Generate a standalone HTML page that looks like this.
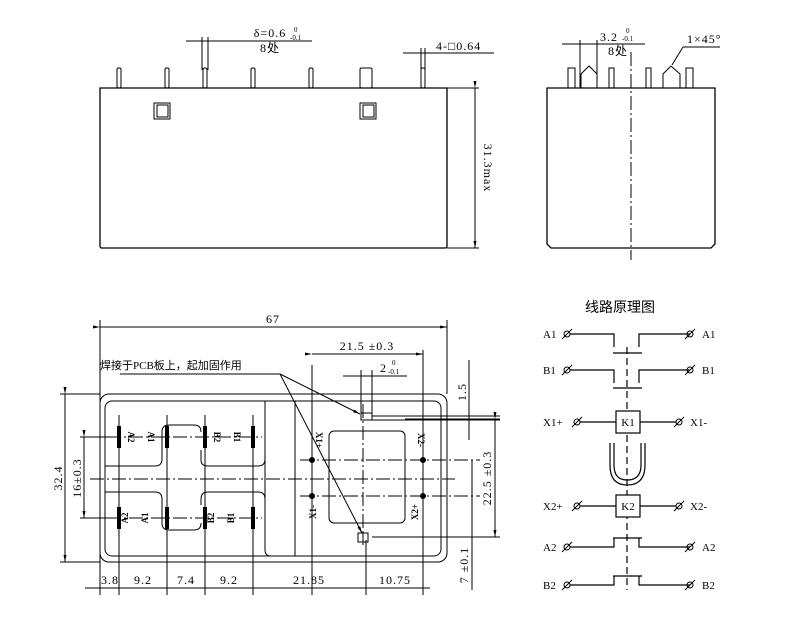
<!DOCTYPE html>
<html><head><meta charset="utf-8"><style>
html,body{margin:0;padding:0;background:#fff}
svg{display:block}
text{font-family:"Liberation Serif","Noto Sans CJK SC",serif;fill:#000}
</style></head><body>
<svg width="800" height="636" viewBox="0 0 800 636" xmlns="http://www.w3.org/2000/svg">
<defs>
<marker id="ar" markerWidth="8" markerHeight="6" refX="7" refY="3" orient="auto"><path d="M0,1.5 L7,3 L0,4.5Z" fill="#000"/></marker>
<g id="s" stroke="#000" fill="none" stroke-width="1"><circle cx="0" cy="0" r="3"/><line x1="-5" y1="5" x2="5" y2="-5"/></g>
</defs>
<g stroke="#000" fill="none" stroke-width="1">
<!-- ===== Front view ===== -->
<path d="M100,88 H447 V246 Q447,248 445,248 H102 Q100,248 100,246 Z" stroke-width="1.3"/>
<line x1="447" y1="88" x2="479" y2="88"/>
<line x1="447" y1="248" x2="479" y2="248"/>
<line x1="475" y1="88" x2="475" y2="248" marker-start="url(#ar)" marker-end="url(#ar)"/>
<rect x="117" y="68" width="4" height="20" rx="1.5"/>
<rect x="165" y="68" width="4" height="20" rx="1.5"/>
<rect x="203" y="68" width="4" height="20" rx="1.5"/>
<rect x="251" y="68" width="4" height="20" rx="1.5"/>
<rect x="309" y="68" width="4" height="20" rx="1.5"/>
<rect x="360" y="68" width="12" height="20" rx="1.5"/>
<rect x="421" y="68" width="4" height="20" rx="1.5"/>
<rect x="154" y="103" width="16" height="16"/><rect x="157" y="105" width="11" height="12"/>
<rect x="360" y="103" width="16" height="16"/><rect x="363" y="105" width="11" height="12"/>
<line x1="202" y1="37" x2="202" y2="70"/><line x1="208" y1="37" x2="208" y2="70"/>
<line x1="186" y1="41" x2="312" y2="41"/>
<line x1="421" y1="48" x2="421" y2="70"/><line x1="425" y1="48" x2="425" y2="70"/>
<line x1="403" y1="53" x2="494" y2="53"/>
<!-- ===== Side view ===== -->
<path d="M547,88 H715 V244 L711,248 H551 L547,244 Z" stroke-width="1.3"/>
<line x1="631" y1="52" x2="631" y2="260" stroke-dasharray="14,3,2,3"/>
<rect x="568" y="68" width="7" height="20"/>
<path d="M581,88 V74 L589,66 L597,74 V88"/>
<rect x="609" y="68" width="5" height="20"/>
<rect x="646" y="68" width="5" height="20"/>
<path d="M663,88 V74 L671,66 L680,74 V88"/>
<rect x="686" y="68" width="7" height="20"/>
<line x1="580" y1="40" x2="580" y2="88"/><line x1="597" y1="40" x2="597" y2="88"/>
<line x1="562" y1="44" x2="645" y2="44"/>
<line x1="683" y1="47" x2="720" y2="47"/><line x1="683" y1="47" x2="672" y2="65"/>
<!-- ===== Bottom view ===== -->
<rect x="100" y="394" width="347" height="168" rx="9"/>
<rect x="105" y="401" width="336" height="155" rx="7"/>
<path d="M265,401 V550 Q265,556 271,556 H295 V401"/>
<path d="M105,466 H155 Q162,466 162,459 V432 Q162,425 169,425 H194 Q201,425 201,432"/>
<path d="M201,450 V460 Q201,466 208,466 H258 Q265,466 265,459 V401"/>
<path d="M105,492 H155 Q162,492 162,499 V523 Q162,530 169,530 H194 Q201,530 201,523"/>
<path d="M201,505 V499 Q201,492 208,492 H258 Q265,492 265,499"/>
<rect x="329" y="431" width="76" height="92" rx="5"/>
<line x1="90" y1="479" x2="455" y2="479" stroke-dasharray="14,3,2,3"/>
<line x1="85" y1="437" x2="262" y2="437" stroke-dasharray="14,3,2,3"/>
<line x1="85" y1="518" x2="262" y2="518" stroke-dasharray="14,3,2,3"/>
<line x1="300" y1="460" x2="480" y2="460" stroke-dasharray="14,3,2,3"/>
<line x1="300" y1="496" x2="480" y2="496" stroke-dasharray="14,3,2,3"/>
<line x1="363" y1="404" x2="363" y2="545" stroke-dasharray="14,3,2,3"/>
<line x1="119" y1="415" x2="119" y2="595"/>
<line x1="167" y1="415" x2="167" y2="595"/>
<line x1="205" y1="415" x2="205" y2="595"/>
<line x1="253" y1="415" x2="253" y2="595"/>
<line x1="312" y1="365" x2="312" y2="595"/>
<line x1="423" y1="350" x2="423" y2="595"/>
<line x1="366" y1="540" x2="366" y2="595"/>
<line x1="100" y1="320" x2="100" y2="595"/>
<line x1="447" y1="320" x2="447" y2="394"/>
<line x1="100" y1="327" x2="447" y2="327" marker-start="url(#ar)" marker-end="url(#ar)"/>
<line x1="312" y1="354" x2="423" y2="354" marker-start="url(#ar)" marker-end="url(#ar)"/>
<line x1="343" y1="376" x2="407" y2="376"/>
<line x1="361" y1="370" x2="361" y2="420"/><line x1="372" y1="370" x2="372" y2="420"/>
<rect x="361" y="413" width="11" height="7"/>
<line x1="372" y1="416" x2="500" y2="416"/><line x1="372" y1="420" x2="500" y2="420"/>
<line x1="469" y1="360" x2="469" y2="440"/>
<line x1="405" y1="419" x2="500" y2="419"/>
<line x1="372" y1="537" x2="500" y2="537"/>
<line x1="495" y1="419" x2="495" y2="537" marker-start="url(#ar)" marker-end="url(#ar)"/>
<line x1="472" y1="460" x2="472" y2="590"/>
<rect x="358" y="533" width="10" height="9"/><line x1="363" y1="533" x2="363" y2="542"/>
<line x1="60" y1="394" x2="100" y2="394"/><line x1="60" y1="562" x2="100" y2="562"/>
<line x1="65" y1="394" x2="65" y2="562" marker-start="url(#ar)" marker-end="url(#ar)"/>
<line x1="80" y1="437" x2="119" y2="437"/><line x1="80" y1="518" x2="119" y2="518"/>
<line x1="84" y1="437" x2="84" y2="518" marker-start="url(#ar)" marker-end="url(#ar)"/>
<line x1="85" y1="588" x2="430" y2="588"/>
<line x1="120" y1="374" x2="280" y2="374"/>
<line x1="280" y1="374" x2="360" y2="414" marker-end="url(#ar)"/>
<line x1="280" y1="374" x2="362" y2="533" marker-end="url(#ar)"/>
</g>
<g fill="#000">
<rect x="117" y="426" width="4" height="22"/><rect x="165" y="426" width="4" height="22"/>
<rect x="117" y="507" width="4" height="22"/><rect x="165" y="507" width="4" height="22"/>
<rect x="203" y="426" width="4" height="22"/><rect x="251" y="426" width="4" height="22"/>
<rect x="203" y="507" width="4" height="22"/><rect x="251" y="507" width="4" height="22"/>
<circle cx="312" cy="460" r="3"/><circle cx="423" cy="460" r="3"/>
<circle cx="312" cy="496" r="3"/><circle cx="423" cy="496" r="3"/>
</g>
<g font-size="12" letter-spacing="1">
<text x="270" y="37" text-anchor="middle">δ=0.6</text>
<text x="294" y="32" font-size="7" fill="#c00" letter-spacing="0">0</text>
<text x="290" y="40" font-size="7" letter-spacing="0">-0.1</text>
<text x="270" y="52" text-anchor="middle">8处</text>
<text x="436" y="50">4-□0.64</text>
<text x="600" y="41">3.2</text>
<text x="626" y="33" font-size="7" fill="#c00" letter-spacing="0">0</text>
<text x="622" y="41" font-size="7" letter-spacing="0">-0.1</text>
<text x="608" y="55">8处</text>
<text x="687" y="43">1×45°</text>
<text transform="translate(484,168) rotate(90)" text-anchor="middle">31.3max</text>
<text x="273" y="323" text-anchor="middle">67</text>
<text x="367" y="350" text-anchor="middle">21.5 ±0.3</text>
<text x="380" y="372">2</text><text x="392" y="365" font-size="7" fill="#c00" letter-spacing="0">0</text><text x="388" y="374" font-size="7" letter-spacing="0">-0.1</text>
<text x="100" y="369" font-size="11" letter-spacing="0" font-family="Liberation Sans,Noto Sans CJK SC,sans-serif">焊接于PCB板上，起加固作用</text>
<text transform="translate(62,478) rotate(-90)" text-anchor="middle">32.4</text>
<text transform="translate(81,478) rotate(-90)" text-anchor="middle">16±0.3</text>
<text transform="translate(466,392) rotate(-90)" text-anchor="middle">1.5</text>
<text transform="translate(491,478) rotate(-90)" text-anchor="middle">22.5 ±0.3</text>
<text transform="translate(468,565) rotate(-90)" text-anchor="middle">7 ±0.1</text>
<text x="110" y="584" text-anchor="middle">3.8</text>
<text x="143" y="584" text-anchor="middle">9.2</text>
<text x="186" y="584" text-anchor="middle">7.4</text>
<text x="229" y="584" text-anchor="middle">9.2</text>
<text x="309" y="584" text-anchor="middle">21.85</text>
<text x="395" y="584" text-anchor="middle">10.75</text>
</g>
<g font-size="9" font-weight="bold">
<text transform="translate(128,437) rotate(90)" text-anchor="middle">A2</text>
<text transform="translate(148,437) rotate(90)" text-anchor="middle">A1</text>
<text transform="translate(214,437) rotate(90)" text-anchor="middle">B2</text>
<text transform="translate(234,437) rotate(90)" text-anchor="middle">B1</text>
<text transform="translate(128,518) rotate(-90)" text-anchor="middle">A2</text>
<text transform="translate(148,518) rotate(-90)" text-anchor="middle">A1</text>
<text transform="translate(214,518) rotate(-90)" text-anchor="middle">B2</text>
<text transform="translate(234,518) rotate(-90)" text-anchor="middle">B1</text>
<text transform="translate(316,440) rotate(90)" text-anchor="middle">X1+</text>
<text transform="translate(418,440) rotate(90)" text-anchor="middle">X2-</text>
<text transform="translate(316,512) rotate(-90)" text-anchor="middle">X1-</text>
<text transform="translate(418,512) rotate(-90)" text-anchor="middle">X2+</text>
</g>
<text x="620" y="312" text-anchor="middle" font-size="14" font-family="Noto Sans CJK SC,sans-serif">线路原理图</text>
<g stroke="#000" fill="none" stroke-width="1.2">
<line x1="627" y1="347" x2="627" y2="590" stroke-dasharray="7,4"/>
<path d="M570,334 H614 V347 M639,347 V334 H690"/>
<line x1="613" y1="353" x2="642" y2="353"/>
<path d="M570,370 H614 V383 M639,383 V370 H690"/>
<line x1="613" y1="388" x2="642" y2="388"/>
<rect x="616" y="411" width="24" height="22" fill="#fff"/>
<path d="M580,422 H616 M640,422 H676"/>
<path d="M610,443 V465 Q610,485 627,485 Q645,485 645,465 V443 M614,443 V465 Q614,480 627,480 Q641,480 641,465 V443"/>
<rect x="616" y="495" width="24" height="22" fill="#fff"/>
<path d="M580,506 H616 M640,506 H676"/>
<line x1="613" y1="538" x2="642" y2="538"/>
<path d="M570,547 H614 V538 M639,538 V547 H690"/>
<line x1="613" y1="576" x2="642" y2="576"/>
<path d="M570,585 H614 V576 M639,576 V585 H690"/>
</g>
<use href="#s" x="567" y="334"/><use href="#s" x="690" y="334"/>
<use href="#s" x="567" y="370"/><use href="#s" x="690" y="370"/>
<use href="#s" x="577" y="422"/><use href="#s" x="679" y="422"/>
<use href="#s" x="577" y="506"/><use href="#s" x="679" y="506"/>
<use href="#s" x="567" y="547"/><use href="#s" x="690" y="547"/>
<use href="#s" x="567" y="585"/><use href="#s" x="690" y="585"/>
<g font-size="11">
<text x="543" y="338">A1</text><text x="702" y="338">A1</text>
<text x="543" y="374">B1</text><text x="702" y="374">B1</text>
<text x="543" y="426">X1+</text><text x="690" y="426">X1-</text>
<text x="628" y="426" text-anchor="middle">K1</text>
<text x="543" y="510">X2+</text><text x="690" y="510">X2-</text>
<text x="628" y="510" text-anchor="middle">K2</text>
<text x="543" y="551">A2</text><text x="702" y="551">A2</text>
<text x="543" y="589">B2</text><text x="702" y="589">B2</text>
</g>
</svg>
</body></html>
